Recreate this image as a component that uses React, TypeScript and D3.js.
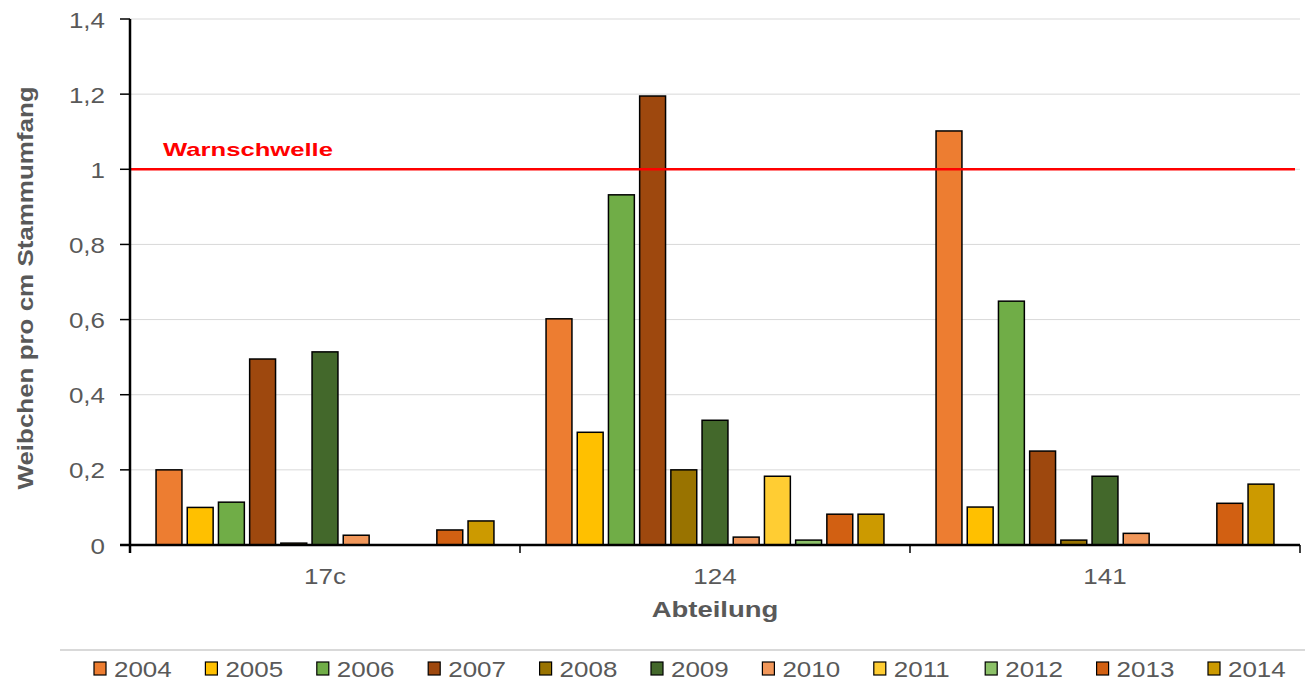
import React from "react";
import * as d3 from "d3";

const categories = ["17c", "124", "141"];
const years = ["2004", "2005", "2006", "2007", "2008", "2009", "2010", "2011", "2012", "2013", "2014"];
const colors = ["#ED7D31", "#FFC000", "#70AD47", "#9E480E", "#997300", "#43682B", "#F1975A", "#FFCD33", "#8CC168", "#D26012", "#CC9A00"];
const values17c = [0.2, 0.1, 0.114, 0.495, 0.005, 0.514, 0.026, 0, 0, 0.04, 0.064];
const values124 = [0.602, 0.3, 0.932, 1.195, 0.2, 0.332, 0.021, 0.183, 0.013, 0.082, 0.082];
const values141 = [1.102, 0.101, 0.649, 0.25, 0.013, 0.183, 0.031, 0, 0, 0.111, 0.162];
const seriesByCategory = [values17c, values124, values141];
const yTicks = [0, 0.2, 0.4, 0.6, 0.8, 1, 1.2, 1.4];
const threshold = 1;
const thresholdLabel = "Warnschwelle";
const yTitle = "Weibchen pro cm Stammumfang";
const xTitle = "Abteilung";

const W = 1305;
const H = 684;
const left = 130;
const right = 1300;
const top = 19;
const bottom = 545;
const FONT = "'Liberation Sans', Arial, sans-serif";
const GRAY = "#595959";
const SX = 1.18;

const fmt = (v: number) => (v === 0 ? "0" : String(v).replace(".", ","));

function Txt(props: { x: number; y: number; size: number; bold?: boolean; fill?: string; anchor?: string; rotate?: number; sx?: number; children: string }) {
  const { x, y, size, bold, fill, anchor, rotate, sx, children } = props;
  const t = `translate(${x},${y})${rotate ? ` rotate(${rotate})` : ""} scale(${sx ?? SX},1)`;
  return (
    <text transform={t} fontSize={size} fontFamily={FONT} fontWeight={bold ? "bold" : "normal"} fill={fill ?? GRAY} textAnchor={anchor ?? "start"}>
      {children}
    </text>
  );
}

export default function App() {
  const x0 = d3.scaleBand<string>().domain(categories).range([left, right]).padding(0);
  const x1 = d3.scaleBand<string>().domain(years).range([0, x0.bandwidth()]).paddingInner(0.17).paddingOuter(0.835);
  const y = d3.scaleLinear().domain([0, 1.4]).range([bottom, top]);

  const legendX0 = 94;
  const legendStep = 111.4;

  return (
    <svg width={W} height={H} style={{ position: "absolute", left: 0, top: 0, background: "#fff" }}>
      <rect width={W} height={H} fill="#fff" />
      {/* gridlines */}
      {yTicks.map((t) => (
        <line key={"g" + t} x1={left} x2={right} y1={y(t)} y2={y(t)} stroke="#d9d9d9" strokeWidth={1} />
      ))}
      {/* bars */}
      {categories.map((c, ci) => (
        <g key={c} transform={`translate(${x0(c)},0)`}>
          {years.map((yr, yi) => {
            const v = seriesByCategory[ci][yi];
            if (!v) return null;
            return (
              <rect
                key={yr}
                x={x1(yr)}
                y={y(v)}
                width={x1.bandwidth()}
                height={y(0) - y(v)}
                fill={colors[yi]}
                stroke="#000"
                strokeWidth={1.5}
              />
            );
          })}
        </g>
      ))}
      {/* threshold */}
      <line x1={left} x2={right - 5} y1={y(threshold)} y2={y(threshold)} stroke="#FF0000" strokeWidth={2.5} />
      <text x={163} y={156} fontSize={19} fontFamily={FONT} fontWeight="bold" fill="#FF0000" textLength={170} lengthAdjust="spacingAndGlyphs">
        {thresholdLabel}
      </text>
      {/* y axis */}
      <line x1={left} x2={left} y1={top} y2={bottom + 8} stroke="#000" strokeWidth={2.5} />
      {yTicks.map((t) => (
        <g key={"t" + t}>
          <line x1={left - 10} x2={left} y1={y(t)} y2={y(t)} stroke="#000" strokeWidth={1.5} />
          <Txt x={105} y={y(t) + 8.5} size={22} anchor="end">{fmt(t)}</Txt>
        </g>
      ))}
      {/* x axis */}
      <line x1={left - 10} x2={right} y1={bottom} y2={bottom} stroke="#000" strokeWidth={2.5} />
      {categories.map((c) => (
        <line key={"xt" + c} x1={(x0(c) ?? 0) + x0.bandwidth()} x2={(x0(c) ?? 0) + x0.bandwidth()} y1={bottom} y2={bottom + 8} stroke="#000" strokeWidth={1.5} />
      ))}
      {categories.map((c) => (
        <Txt key={"xl" + c} x={(x0(c) ?? 0) + x0.bandwidth() / 2} y={584} size={22} anchor="middle">{c}</Txt>
      ))}
      <Txt x={(left + right) / 2} y={617} size={22} bold anchor="middle" sx={1.25}>{xTitle}</Txt>
      <Txt x={33} y={288} size={22} bold anchor="middle" rotate={-90}>{yTitle}</Txt>
      {/* legend */}
      <line x1={60} x2={W} y1={650} y2={650} stroke="#d9d9d9" strokeWidth={2} />
      {years.map((yr, i) => (
        <g key={"lg" + yr}>
          <rect x={legendX0 + i * legendStep} y={662} width={12} height={13} fill={colors[i]} stroke="#000" strokeWidth={1.2} />
          <Txt x={legendX0 + i * legendStep + 20} y={677} size={22}>{yr}</Txt>
        </g>
      ))}
    </svg>
  );
}
